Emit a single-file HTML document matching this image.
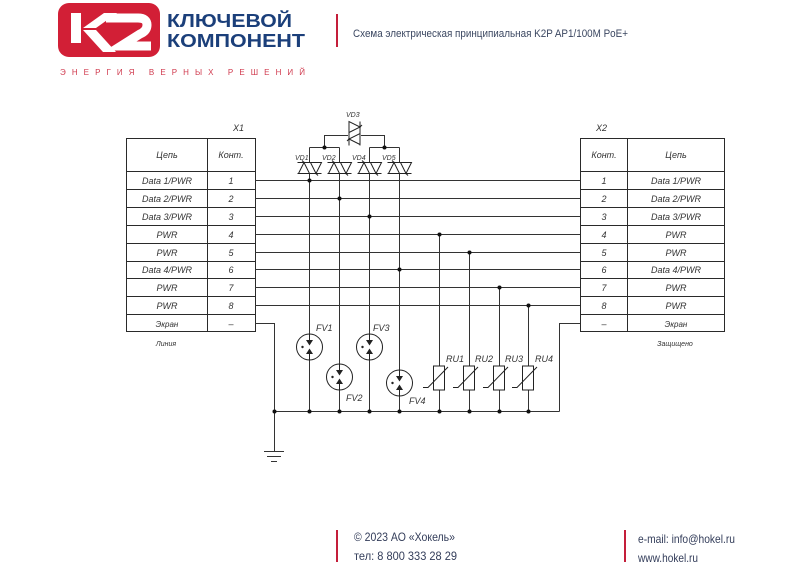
<!DOCTYPE html>
<html><head><meta charset="utf-8"><style>
html,body{margin:0;padding:0;background:#fff;}
svg{display:block;}
.t{font-family:"Liberation Sans",sans-serif;font-style:italic;font-size:9px;fill:#333;}
.s{font-family:"Liberation Sans",sans-serif;font-style:italic;font-size:7px;fill:#333;}
</style></head><body>
<svg width="800" height="581" viewBox="0 0 800 581" xmlns="http://www.w3.org/2000/svg">
<rect width="800" height="581" fill="#fff"/>
<!-- logo -->
<rect x="58" y="3" width="102" height="54" rx="11" fill="#d21f36"/>
<rect x="71" y="13" width="10" height="30" fill="#fff"/>
<polygon points="83,28 104,13 117,13 96,28" fill="#fff"/>
<polygon points="83,30 96,30 116,52 103,52" fill="#fff"/>
<path d="M106,18 H138 Q147,18 147,25 Q147,31 140,34 L121,46 H151" fill="none" stroke="#fff" stroke-width="9" stroke-linejoin="miter"/>
<text x="167" y="27" font-family="Liberation Sans,sans-serif" font-weight="bold" font-size="18.5" fill="#1b3f7a" textLength="125" lengthAdjust="spacingAndGlyphs">КЛЮЧЕВОЙ</text>
<text x="167" y="47" font-family="Liberation Sans,sans-serif" font-weight="bold" font-size="18.5" fill="#1b3f7a" textLength="138" lengthAdjust="spacingAndGlyphs">КОМПОНЕНТ</text>
<text x="60" y="75" font-family="Liberation Sans,sans-serif" font-size="8" fill="#d03a4e" textLength="245">ЭНЕРГИЯ ВЕРНЫХ РЕШЕНИЙ</text>
<rect x="336" y="14" width="2" height="33" fill="#c41e3a"/>
<text x="353" y="37" font-family="Liberation Sans,sans-serif" font-size="11" fill="#3a4660" textLength="275" lengthAdjust="spacingAndGlyphs">Схема электрическая принципиальная K2P AP1/100M PoE+</text>

<!-- tables -->
<g fill="none" stroke="#2a2a2a" stroke-width="1">
<rect x="126.5" y="138.5" width="129" height="193"/>
<line x1="207.5" y1="138.5" x2="207.5" y2="331.5"/>
<rect x="580.5" y="138.5" width="144" height="193"/>
<line x1="627.5" y1="138.5" x2="627.5" y2="331.5"/>
<path d="M126.5 171.5H255.5M126.5 189.5H255.5M126.5 207.5H255.5M126.5 225.5H255.5M126.5 243.5H255.5M126.5 261.5H255.5M126.5 278.5H255.5M126.5 296.5H255.5M126.5 314.5H255.5"/>
<path d="M580.5 171.5H724.5M580.5 189.5H724.5M580.5 207.5H724.5M580.5 225.5H724.5M580.5 243.5H724.5M580.5 261.5H724.5M580.5 278.5H724.5M580.5 296.5H724.5M580.5 314.5H724.5"/>
</g>
<text class="t" x="233" y="131" font-size="10">X1</text>
<text class="t" x="596" y="131" font-size="10">X2</text>
<g class="t" text-anchor="middle">
<text x="167" y="158">Цепь</text><text x="231" y="158">Конт.</text>
<text x="167" y="184">Data 1/PWR</text><text x="231" y="184">1</text>
<text x="167" y="202">Data 2/PWR</text><text x="231" y="202">2</text>
<text x="167" y="220">Data 3/PWR</text><text x="231" y="220">3</text>
<text x="167" y="238">PWR</text><text x="231" y="238">4</text>
<text x="167" y="256">PWR</text><text x="231" y="256">5</text>
<text x="167" y="273">Data 4/PWR</text><text x="231" y="273">6</text>
<text x="167" y="291">PWR</text><text x="231" y="291">7</text>
<text x="167" y="309">PWR</text><text x="231" y="309">8</text>
<text x="167" y="327" font-size="8">Экран</text><text x="231" y="327">–</text>
<text x="604" y="158">Конт.</text><text x="676" y="158">Цепь</text>
<text x="604" y="184">1</text><text x="676" y="184">Data 1/PWR</text>
<text x="604" y="202">2</text><text x="676" y="202">Data 2/PWR</text>
<text x="604" y="220">3</text><text x="676" y="220">Data 3/PWR</text>
<text x="604" y="238">4</text><text x="676" y="238">PWR</text>
<text x="604" y="256">5</text><text x="676" y="256">PWR</text>
<text x="604" y="273">6</text><text x="676" y="273">Data 4/PWR</text>
<text x="604" y="291">7</text><text x="676" y="291">PWR</text>
<text x="604" y="309">8</text><text x="676" y="309">PWR</text>
<text x="604" y="327">–</text><text x="676" y="327" font-size="8">Экран</text>
</g>
<text class="s" x="166" y="346" text-anchor="middle">Линия</text>
<text class="s" x="675" y="346" text-anchor="middle">Защищено</text>

<!-- wires -->
<g fill="none" stroke="#333" stroke-width="1">
<path d="M255 180.5H580M255 198.5H580M255 216.5H580M255 234.5H580M255 252.5H580M255 269.5H580M255 287.5H580M255 305.5H580"/>
<!-- screen -->
<path d="M255 323.5H274.5V451"/>
<path d="M580 323.5H559.5V411.5"/>
<path d="M274 411.5H559.5"/>
<path d="M264 451.5H284M267 456.5H281M271 461.5H277"/>
<!-- diode junctions -->
<path d="M309.5 147.5H339.5M369.5 147.5H399.5M324.5 147.5V135.5H348M361 135.5H384.5V147.5"/>
<!-- verticals VD -->
<path d="M309.5 147.5V162.5M309.5 174V334M309.5 360V411"/>
<path d="M339.5 147.5V162.5M339.5 174V364M339.5 390V411"/>
<path d="M369.5 147.5V162.5M369.5 174V334M369.5 360V411"/>
<path d="M399.5 147.5V162.5M399.5 174V370M399.5 396V411"/>
<!-- RU verticals -->
<path d="M439.5 234.5V366M439.5 390V411"/>
<path d="M469.5 252.5V366M469.5 390V411"/>
<path d="M499.5 287.5V366M499.5 390V411"/>
<path d="M528.5 305.5V366M528.5 390V411"/>
</g>

<!-- VD symbols -->
<defs>
<g id="tvs" fill="none" stroke="#222" stroke-width="1">
<path d="M-12 0.5H12M-12 11.5H12"/>
<path d="M-11 11.5L-5.5 0.5L0 11.5Z"/>
<path d="M1 0.5L6.5 11.5L12 0.5Z"/>
<path d="M-5.5 0.5L-7.5 -1.5M6.5 11.5L8.5 13.5"/>
</g>
<g id="fv">
<circle r="13" fill="#fff" stroke="#222" stroke-width="1"/>
<line x1="0" y1="-13" x2="0" y2="-7" stroke="#222"/>
<line x1="0" y1="7" x2="0" y2="13" stroke="#222"/>
<polygon points="-3.5,-7 3.5,-7 0,-1.5" fill="#222"/>
<polygon points="-3.5,7 3.5,7 0,1.5" fill="#222"/>
<circle cx="-7" cy="0" r="1.2" fill="#222"/>
</g>
<g id="ru" fill="none" stroke="#222" stroke-width="1">
<rect x="-5.5" y="0" width="11" height="24" fill="#fff"/>
<path d="M-16 21.5H-11L9 1"/>
</g>
</defs>
<use href="#tvs" x="309.5" y="162"/>
<use href="#tvs" x="339.5" y="162"/>
<use href="#tvs" x="369.5" y="162"/>
<use href="#tvs" x="399.5" y="162"/>
<g transform="translate(354.5,133.5) rotate(-90)">
<use href="#tvs" x="0" y="-6"/>
</g>
<g class="s" font-size="6.5">
<text x="295" y="160">VD1</text>
<text x="322" y="160">VD2</text>
<text x="352" y="160">VD4</text>
<text x="382" y="160">VD5</text>
<text x="346" y="117">VD3</text>
</g>

<use href="#fv" x="309.5" y="347"/>
<use href="#fv" x="339.5" y="377"/>
<use href="#fv" x="369.5" y="347"/>
<use href="#fv" x="399.5" y="383"/>
<g class="t">
<text x="316" y="331">FV1</text>
<text x="346" y="401">FV2</text>
<text x="373" y="331">FV3</text>
<text x="409" y="404">FV4</text>
</g>

<use href="#ru" x="439" y="366"/>
<use href="#ru" x="469" y="366"/>
<use href="#ru" x="499" y="366"/>
<use href="#ru" x="528" y="366"/>
<g class="t" font-size="8.5">
<text x="446" y="362">RU1</text>
<text x="475" y="362">RU2</text>
<text x="505" y="362">RU3</text>
<text x="535" y="362">RU4</text>
</g>

<!-- dots -->
<g fill="#111">
<circle cx="324.5" cy="147.5" r="2"/><circle cx="384.5" cy="147.5" r="2"/>
<circle cx="309.5" cy="180.5" r="2"/><circle cx="339.5" cy="198.5" r="2"/>
<circle cx="369.5" cy="216.5" r="2"/><circle cx="399.5" cy="269.5" r="2"/>
<circle cx="439.5" cy="234.5" r="2"/><circle cx="469.5" cy="252.5" r="2"/>
<circle cx="499.5" cy="287.5" r="2"/><circle cx="528.5" cy="305.5" r="2"/>
<circle cx="274.5" cy="411.5" r="2"/><circle cx="309.5" cy="411.5" r="2"/>
<circle cx="339.5" cy="411.5" r="2"/><circle cx="369.5" cy="411.5" r="2"/>
<circle cx="399.5" cy="411.5" r="2"/><circle cx="439.5" cy="411.5" r="2"/>
<circle cx="469.5" cy="411.5" r="2"/><circle cx="499.5" cy="411.5" r="2"/>
<circle cx="528.5" cy="411.5" r="2"/>
</g>

<!-- footer -->
<rect x="336" y="530" width="2" height="32" fill="#c41e3a"/>
<rect x="624" y="530" width="2" height="32" fill="#c41e3a"/>
<g font-family="Liberation Sans,sans-serif" font-size="12" fill="#333d5a">
<text x="354" y="541" textLength="101" lengthAdjust="spacingAndGlyphs">© 2023 АО «Хокель»</text>
<text x="354" y="560" textLength="103" lengthAdjust="spacingAndGlyphs">тел: 8 800 333 28 29</text>
<text x="638" y="543" textLength="97" lengthAdjust="spacingAndGlyphs">e-mail: info@hokel.ru</text>
<text x="638" y="562" textLength="60" lengthAdjust="spacingAndGlyphs">www.hokel.ru</text>
</g>
</svg>
</body></html>
